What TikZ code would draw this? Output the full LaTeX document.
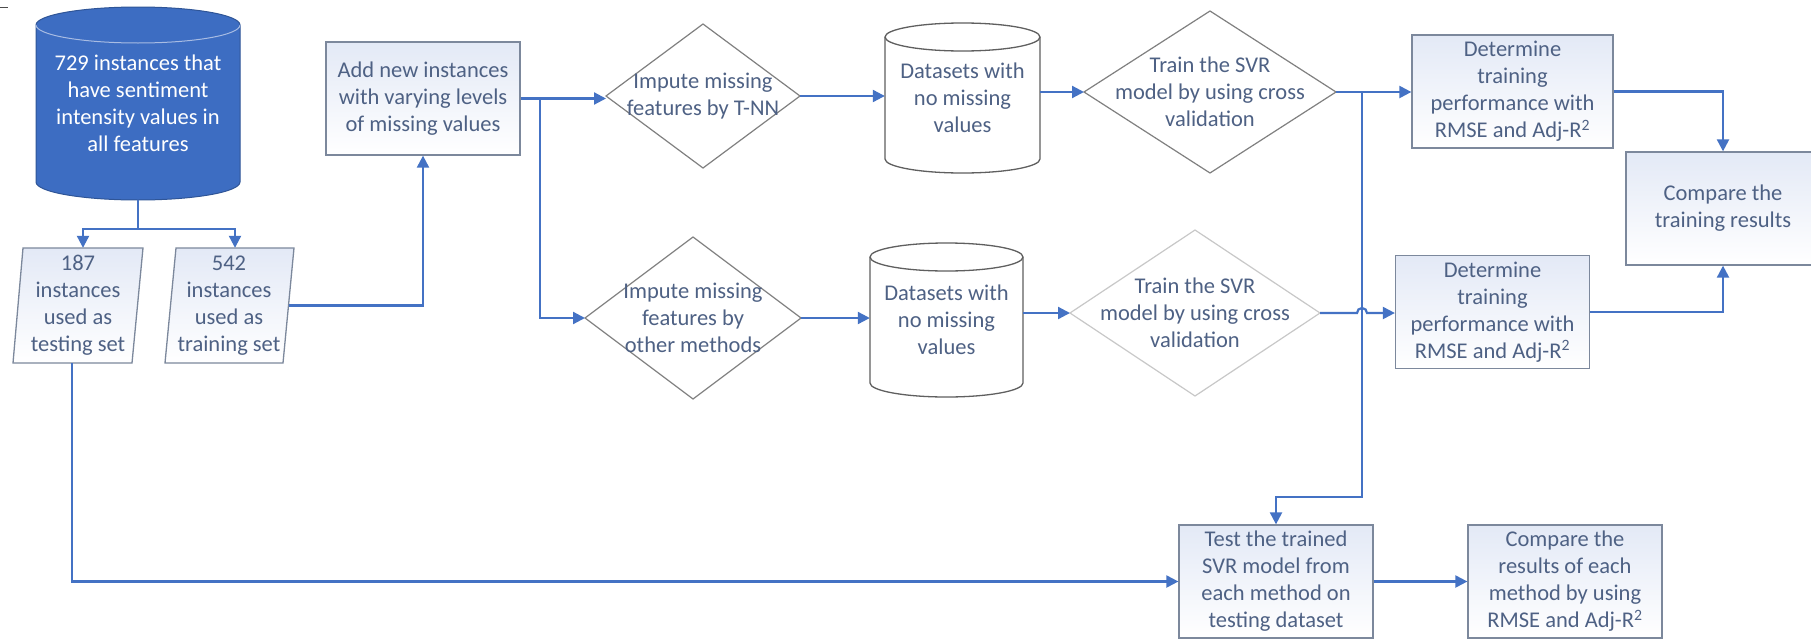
\documentclass[tikz,border=0pt]{standalone}
\usepackage{fontspec}
\setmainfont{Carlito}
\usetikzlibrary{arrows.meta,calc}

\definecolor{lineblue}{HTML}{4472C4}
\definecolor{dbfill}{HTML}{3D6DC2}
\definecolor{dbedge}{HTML}{2F5597}
\definecolor{dbrim}{HTML}{A8BCE3}
\definecolor{textgrey}{HTML}{4E6184}
\definecolor{boxedge}{HTML}{7C889C}
\definecolor{boxtint}{HTML}{E3E9F6}
\definecolor{shapeedge}{HTML}{808080}
\definecolor{paleedge}{HTML}{C8C8C8}
\definecolor{cyledge}{HTML}{5F5F5F}

\newcommand\diagfont{\fontsize{22.5}{27}\selectfont}

\tikzset{
  conn/.style={draw=lineblue, line width=2.2pt},
  arr/.style={conn, -{Triangle[length=12pt,width=12pt]}},
  txt/.style={text=textgrey, align=center, font=\diagfont, inner sep=0pt},
  box/.style={txt, rectangle, draw=boxedge, line width=1.3pt,
    top color=boxtint, bottom color=white,
    minimum width=194pt, minimum height=113pt},
  slantbox/.style={draw=boxedge, line width=1.3pt, top color=boxtint, bottom color=white},
  dia/.style={draw=shapeedge, line width=1.2pt, fill=white},
  paledia/.style={draw=paleedge, line width=1.2pt, fill=white},
  cyl/.style={draw=cyledge, line width=1.3pt, fill=white},
}

\begin{document}
\begin{tikzpicture}[x=1pt,y=1pt]
\useasboundingbox (0,0) rectangle (1811,-640);
\fill[white] (0,0) rectangle (1811,-640);

% stray tick in the corner
\draw[black!70, line width=1pt] (0,-7) -- (8,-7);

% ---- source database (filled cylinder)
\filldraw[fill=dbfill, draw=dbedge, line width=1pt]
  (36,-25) -- (36,-182) arc[start angle=180,end angle=360,x radius=102,y radius=18]
  -- (240,-25) arc[start angle=0,end angle=180,x radius=102,y radius=18] -- cycle;
\draw[dbrim, line width=1pt] (36,-25) arc[start angle=180,end angle=360,x radius=102,y radius=18];
\node[txt, text=white, minimum width=204pt, minimum height=193pt] (cylA) at (138,-103.5)
  {729 instances that\\have sentiment\\intensity values in\\all features};

% ---- split into testing / training sets (parallelograms)
\path[slantbox] (23,-248) -- (143,-248) -- (132,-363) -- (13,-363) -- cycle;
\node[txt, minimum width=120pt, minimum height=115pt] (p187) at (78,-305.5)
  {187\\instances\\used as\\testing set};
\path[slantbox] (176,-248) -- (294,-248) -- (283,-363) -- (165,-363) -- cycle;
\node[txt, minimum width=119pt, minimum height=115pt] (p542) at (229,-305.5)
  {542\\instances\\used as\\training set};

\coordinate (split) at (138,-229);
\draw[conn] (cylA.south) -- (split);
\draw[arr] (split) -| ([xshift=5pt]p187.north);
\draw[arr] (split) -| ([xshift=6pt]p542.north);

% ---- add missing values
\node[box] (add) at (423,-98.5) {Add new instances\\with varying levels\\of missing values};
\draw[arr] (p542.east) -| (add.south);

% ---- upper branch: T-NN
\draw[dia] (606,-96) -- (703,-24) -- (800,-96) -- (703,-168) -- cycle;
\coordinate (d1w) at (606,-96);
\coordinate (d1e) at (800,-96);
\node[txt] (d1) at (703,-96) {Impute missing\\features by T-NN};

\path[cyl] (885,-37) -- (885,-159) arc[start angle=180,end angle=360,x radius=77.5,y radius=14]
  -- (1040,-37) arc[start angle=0,end angle=180,x radius=77.5,y radius=14] -- cycle;
\draw[cyledge, line width=1.3pt] (885,-37) arc[start angle=180,end angle=360,x radius=77.5,y radius=14];
\node[txt, minimum width=155pt, minimum height=150pt] (cylB) at (962.5,-98)
  {Datasets with\\no missing\\values};

\draw[dia] (1084,-92) -- (1210,-11) -- (1336,-92) -- (1210,-173) -- cycle;
\coordinate (d3w) at (1084,-92);
\coordinate (d3e) at (1336,-92);
\node[txt] (d3) at (1210,-92) {Train the SVR\\model by using cross\\validation};

\node[box, minimum width=201pt] (det1) at (1512.5,-91.5)
  {Determine\\training\\performance with\\RMSE and Adj-R\textsuperscript{2}};

% ---- lower branch: other methods
\draw[dia] (585,-318) -- (693,-237) -- (801,-318) -- (693,-399) -- cycle;
\coordinate (d2w) at (585,-318);
\coordinate (d2e) at (801,-318);
\node[txt] (d2) at (693,-318) {Impute missing\\features by\\other methods};

\path[cyl] (870,-257) -- (870,-383) arc[start angle=180,end angle=360,x radius=76.5,y radius=14]
  -- (1023,-257) arc[start angle=0,end angle=180,x radius=76.5,y radius=14] -- cycle;
\draw[cyledge, line width=1.3pt] (870,-257) arc[start angle=180,end angle=360,x radius=76.5,y radius=14];
\node[txt, minimum width=153pt, minimum height=154pt] (cylC) at (946.5,-320)
  {Datasets with\\no missing\\values};

\draw[paledia] (1070,-313) -- (1195,-230) -- (1320,-313) -- (1195,-396) -- cycle;
\coordinate (d4w) at (1070,-313);
\coordinate (d4e) at (1320,-313);
\node[txt] (d4) at (1195,-313) {Train the SVR\\model by using cross\\validation};

\node[box] (det2) at (1492.5,-312)
  {Determine\\training\\performance with\\RMSE and Adj-R\textsuperscript{2}};

% ---- comparison and testing
\node[box] (cmpT) at (1723,-208.5) {Compare the\\training results};
\node[box] (test) at (1276,-581.5) {Test the trained\\SVR model from\\each method on\\testing dataset};
\node[box] (cmpR) at (1565,-581.5) {Compare the\\results of each\\method by using\\RMSE and Adj-R\textsuperscript{2}};

% ---- connectors
\coordinate (br1) at (540,-98.5);
\draw[arr] (add.east) -- (add.east -| d1w);
\draw[arr] (br1) |- (d2w);

\draw[arr] (d1e) -- (d1e -| cylB.west);
\draw[arr] (cylB.east |- d3w) -- (d3w);
\draw[arr] (d3e) -- (d3e -| det1.west);

\coordinate (br2) at (1362,-92);
\coordinate (turn) at (1362,-497);
\draw[arr] (br2) -- (turn) -| (test.north);

\draw[arr] (det1.east) -| (cmpT.north);

\draw[arr] (d2e) -- (d2e -| cylC.west);
\draw[arr] (cylC.east |- d4w) -- (d4w);
\draw[arr] (d4e) -- ($(br2 |- d4e)+(-5,0)$)
  arc[start angle=180,end angle=0,radius=5] -- (d4e -| det2.west);
\draw[arr] (det2.east) -| (cmpT.south);

\draw[arr] ([xshift=-6pt]p187.south) |- (test.west);
\draw[arr] (test.east) -- (cmpR.west);
\end{tikzpicture}
\end{document}
